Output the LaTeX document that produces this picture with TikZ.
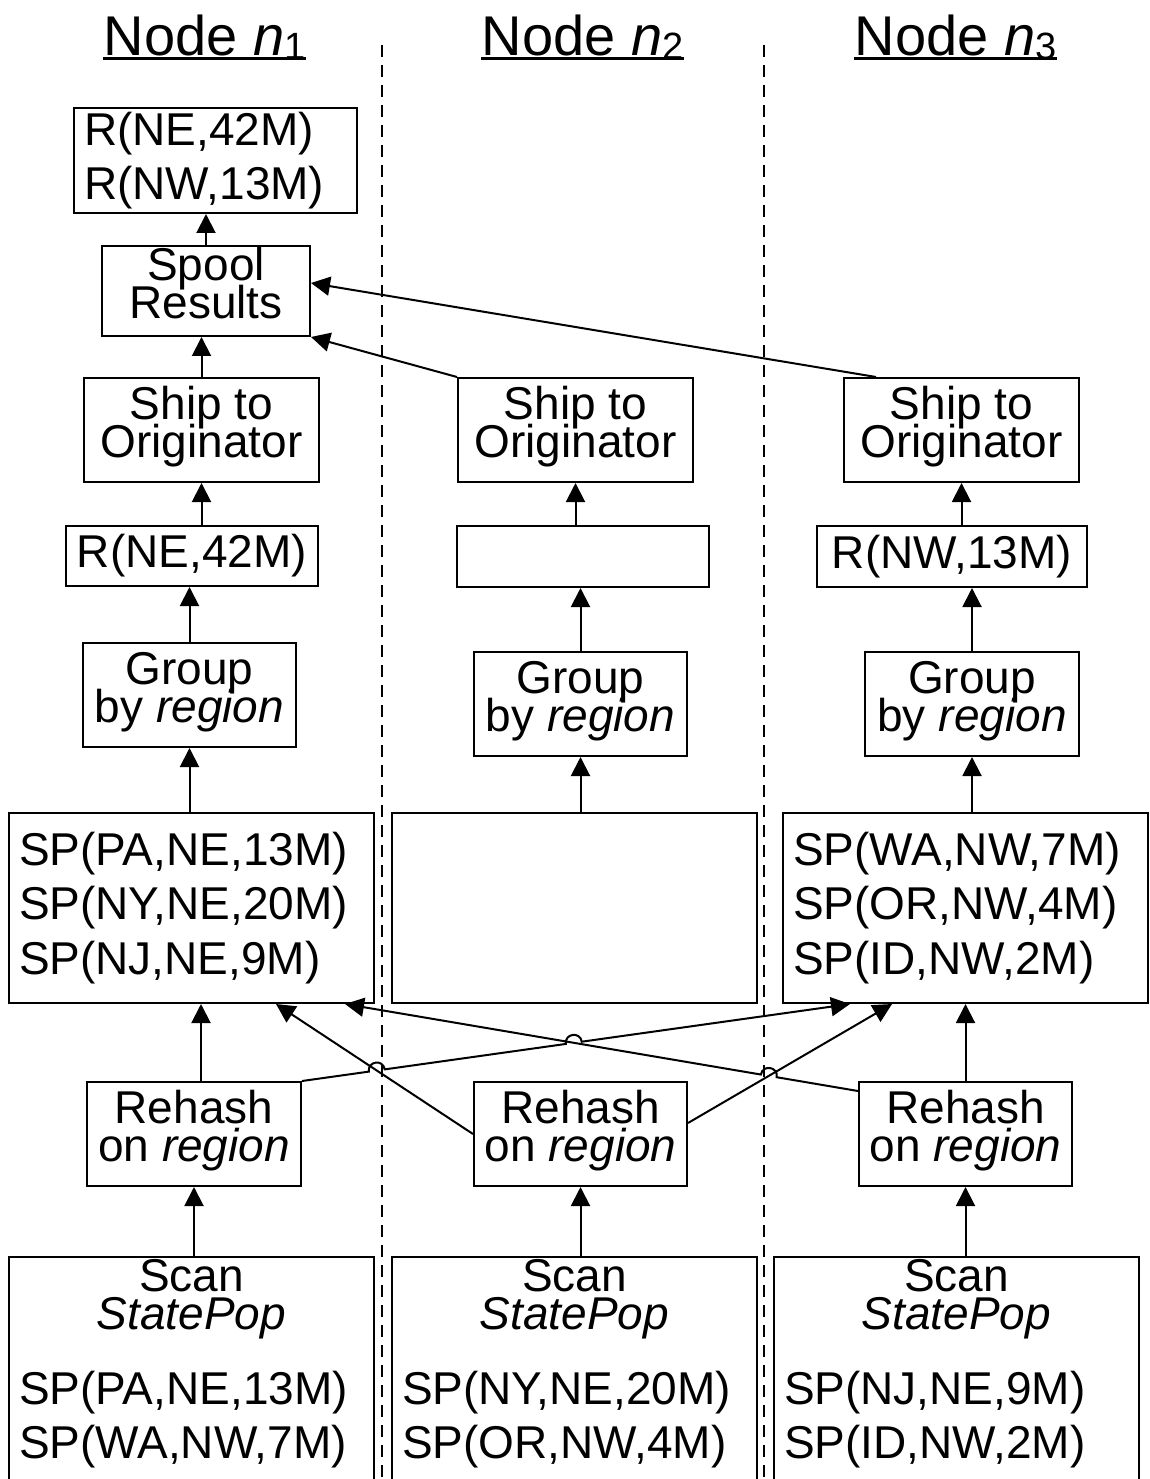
\documentclass[tikz,border=0pt]{standalone}
\usepackage{fontspec}
\setmainfont{Liberation Sans}
\usetikzlibrary{arrows.meta,calc,intersections}

\setlength{\parindent}{0pt}
\newcommand{\boxfont}{\fontsize{46pt}{38pt}\selectfont\lineskiplimit=-\maxdimen}
\newcommand{\spfont}{\fontsize{46pt}{54.5pt}\selectfont\lineskiplimit=-\maxdimen}
\newcommand{\topstrut}{\rule{0pt}{0.74em}}
\newcommand{\botstrut}{\rule[-0.39em]{0pt}{0.39em}}
\newcommand{\longstrut}{\rule[-80pt]{0pt}{80pt}}
\newcommand{\nsub}[1]{\raisebox{-4pt}{\fontsize{38pt}{40pt}\selectfont #1}}

\begin{document}
\begin{tikzpicture}[x=1pt, y=-1pt, font=\boxfont,
    header/.style={anchor=base, inner sep=0pt, font=\fontsize{56pt}{60pt}\selectfont},
    box/.style={draw, line width=2pt, inner sep=0pt, align=center},
    listbox/.style={draw, line width=2pt, inner xsep=10pt, inner ysep=0pt, align=left, font=\spfont},
    scanbox/.style={draw, line width=2pt, anchor=north, text width=345pt, inner xsep=10pt, inner ysep=0pt, align=left, font=\spfont},
    divider/.style={dash pattern=on 12pt off 8pt, line width=1.5pt},
    mess/.style={-{Triangle[length=19pt,width=19pt]}, line width=2pt},
    hop/.style={bend left=90, looseness=1.7},
    hopr/.style={bend right=90, looseness=1.7}
]
\clip (0,0) rectangle (1149,1479);

% Headers
\node[header] (title1) at (204.5,56) {Node \textit{n}\nsub{1}};
\node[header] (title2) at (582.5,56) {Node \textit{n}\nsub{2}};
\node[header] (title3) at (955.5,56) {Node \textit{n}\nsub{3}};
\foreach \t in {title1,title2,title3}
  \draw[line width=3pt] ([yshift=-3pt]\t.base west) -- ([yshift=-3pt]\t.base east);

% Dividers between the nodes
\draw[divider] (382,45) -- (382,1479);
\draw[divider] (764,45) -- (764,1479);

% Node n1
\node[listbox, text width=263pt, minimum height=105pt] (res) at (215.5,160.5) {R(NE,42M)\\R(NW,13M)};
\node[box, minimum width=208pt, minimum height=86pt] (spool) at (206,291) {\topstrut Spool\\Results\botstrut};
\node[box, minimum width=235pt, minimum height=104pt] (ship1) at (201.5,430) {\topstrut Ship to\\Originator\botstrut};
\node[box, minimum width=252pt, minimum height=60pt] (r1) at (192,556) {R(NE,42M)};
\node[box, minimum width=213pt, minimum height=104pt] (group1) at (189.5,695) {\topstrut Group\\by \textit{region}\botstrut};
\node[listbox, text width=345pt, minimum height=190pt] (sp1) at (191.5,908) {SP(PA,NE,13M)\\SP(NY,NE,20M)\\SP(NJ,NE,9M)};
\node[box, minimum width=214pt, minimum height=104pt] (rh1) at (194,1134) {\topstrut Rehash\\on \textit{region}\botstrut};
\node[scanbox] (scan1) at (191.5,1256) {{\boxfont\centering\topstrut Scan\\\textit{StatePop}\par}\vspace{20.5pt}SP(PA,NE,13M)\\SP(WA,NW,7M)\longstrut};

% Node n2
\node[box, minimum width=235pt, minimum height=104pt] (ship2) at (575.5,430) {\topstrut Ship to\\Originator\botstrut};
\node[box, minimum width=252pt, minimum height=61pt] (r2) at (583,556.5) {};
\node[box, minimum width=213pt, minimum height=104pt] (group2) at (580.5,704) {\topstrut Group\\by \textit{region}\botstrut};
\node[box, minimum width=365pt, minimum height=190pt] (sp2) at (574.5,908) {};
\node[box, minimum width=213pt, minimum height=104pt] (rh2) at (580.5,1134) {\topstrut Rehash\\on \textit{region}\botstrut};
\node[scanbox] (scan2) at (574.5,1256) {{\boxfont\centering\topstrut Scan\\\textit{StatePop}\par}\vspace{20.5pt}SP(NY,NE,20M)\\SP(OR,NW,4M)\longstrut};

% Node n3
\node[box, minimum width=235pt, minimum height=104pt] (ship3) at (961.5,430) {\topstrut Ship to\\Originator\botstrut};
\node[box, minimum width=270pt, minimum height=61pt] (r3) at (952,556.5) {R(NW,13M)};
\node[box, minimum width=214pt, minimum height=104pt] (group3) at (972,704) {\topstrut Group\\by \textit{region}\botstrut};
\node[listbox, text width=345pt, minimum height=190pt] (sp3) at (965.5,908) {SP(WA,NW,7M)\\SP(OR,NW,4M)\\SP(ID,NW,2M)};
\node[box, minimum width=213pt, minimum height=104pt] (rh3) at (965.5,1134) {\topstrut Rehash\\on \textit{region}\botstrut};
\node[scanbox] (scan3) at (956.5,1256) {{\boxfont\centering\topstrut Scan\\\textit{StatePop}\par}\vspace{20.5pt}SP(NJ,NE,9M)\\SP(ID,NW,2M)\longstrut};

% Flow inside n1
\coordinate (rh1up) at ([xshift=7pt]rh1.north);
\draw[mess] (rh1.south |- scan1.north) -- (rh1.south);
\draw[mess] (rh1up) -- (rh1up |- sp1.south);
\draw[mess] (group1.south |- sp1.north) -- (group1.south);
\draw[mess] (group1.north) -- (group1.north |- r1.south);
\draw[mess] (ship1.south |- r1.north) -- (ship1.south);
\draw[mess] (ship1.north) -- (ship1.north |- spool.south);
\draw[mess] (spool.north) -- (spool.north |- res.south);

% Flow inside n2
\draw[mess] (rh2.south |- scan2.north) -- (rh2.south);
\draw[mess] (group2.south |- sp2.north) -- (group2.south);
\draw[mess] (group2.north) -- (group2.north |- r2.south);
\draw[mess] (ship2.south |- r2.north) -- (ship2.south);

% Flow inside n3
\draw[mess] (rh3.south |- scan3.north) -- (rh3.south);
\draw[mess] (rh3.north) -- (rh3.north |- sp3.south);
\draw[mess] (group3.south |- sp3.north) -- (group3.south);
\draw[mess] (group3.north) -- (group3.north |- r3.south);
\draw[mess] (ship3.south |- r3.north) -- (ship3.south);

% Results shipped back to n1
\draw[mess] (ship2.north west) -- (spool.south east);
\draw[mess] ([xshift=33pt]ship3.north west) -- ([yshift=8pt]spool.east);

% Rehash: crossing arrows (with hops)
\coordinate (hit1) at ($(sp1.south)+(84.5,0)$);
\coordinate (hit2) at ($(sp1.south)+(153.5,0)$);
\coordinate (hit3) at ($(sp3.south)+(-115.5,0)$);
\coordinate (hit4) at ($(sp3.south)+(-73.5,0)$);
\coordinate (rh2r) at ([yshift=11pt]rh2.east);
\coordinate (rh3l) at ([yshift=43pt]rh3.west);
\path[name path=ln1] (rh1.north east) -- (hit3);
\path[name path=ln2] (rh2.west) -- (hit1);
\path[name path=ln3] (rh2r) -- (hit4);
\path[name path=ln4] (rh3l) -- (hit2);
\path[name intersections={of=ln1 and ln2, by=x12}];
\path[name intersections={of=ln1 and ln4, by=x14}];
\path[name intersections={of=ln4 and ln3, by=x43}];

\draw[mess] (rh2.west) -- (hit1);
\draw[mess] (rh2r) -- (hit4);
\draw[mess] (rh1.north east) -- ($(x12)!8pt!(rh1.north east)$) to[hop] ($(x12)!8pt!(hit3)$)
  -- ($(x14)!8pt!(rh1.north east)$) to[hop] ($(x14)!8pt!(hit3)$) -- (hit3);
\draw[mess] (rh3l) -- ($(x43)!8pt!(rh3l)$) to[hopr] ($(x43)!8pt!(hit2)$) -- (hit2);

\end{tikzpicture}
\end{document}
